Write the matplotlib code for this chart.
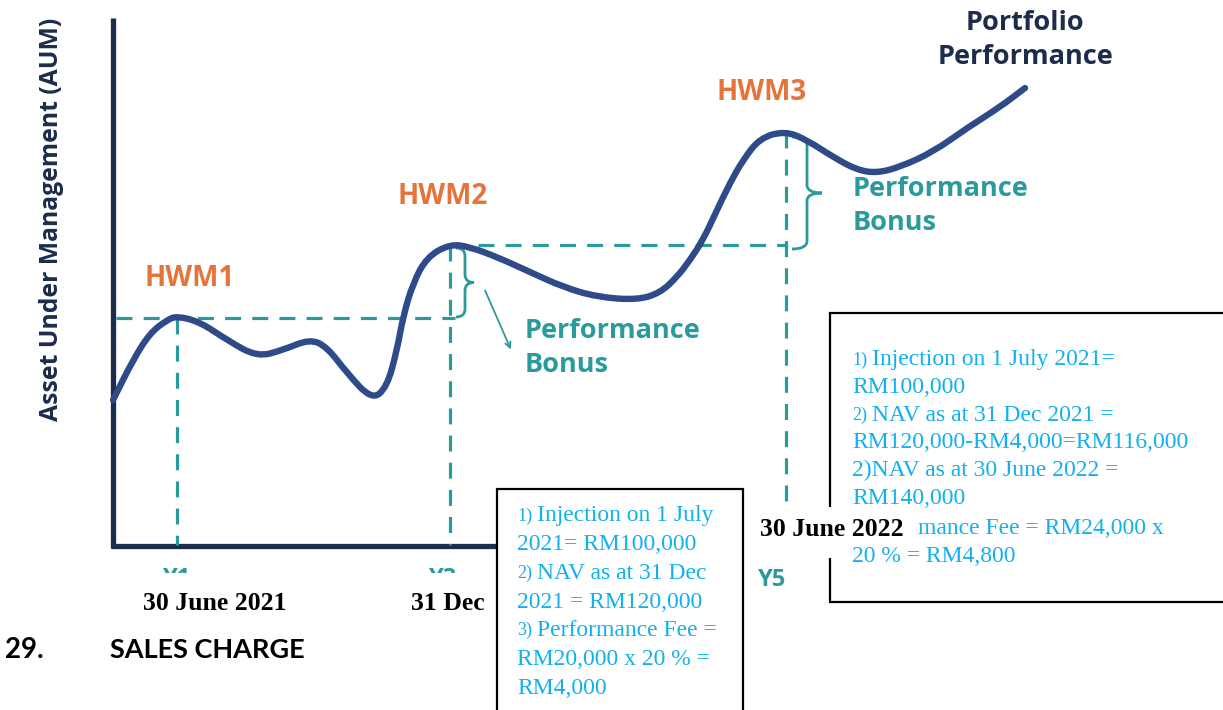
import matplotlib.pyplot as plt
from matplotlib.path import Path
from matplotlib.patches import PathPatch, Rectangle
import numpy as np

# portfolio curve (pixel space, y grows down)
curve_x = [113, 133, 150, 167, 177, 200, 227, 257, 283, 310, 327, 347, 372, 387, 397, 403, 413, 427, 450,
           470, 497, 530, 563, 597, 637, 660, 677, 690, 703, 717, 730, 743, 760, 785,
           807, 833, 857, 877, 900, 933, 967, 1000, 1025]
curve_y = [400, 360, 333, 320, 316, 322, 340, 357, 350, 339, 347, 373, 400, 387, 350, 317, 283, 257, 244,
           247, 257, 272, 287, 297, 300, 293, 277, 260, 240, 210, 183, 160, 138, 131,
           140, 157, 170, 173, 167, 152, 128, 107, 88]

# high water marks
hwm_labels = ['HWM1', 'HWM2', 'HWM3']
hwm_x = [177, 450, 786]
hwm_y = [318, 245, 132]

date_labels = ['30 June 2021', '31 Dec', '30 June 2022']

box1_lines = [('1)', 'Injection on 1 July'), ('', '2021= RM100,000'), ('2)', 'NAV as at 31 Dec'),
              ('', '2021 = RM120,000'), ('3)', 'Performance Fee ='), ('', 'RM20,000 x 20 % ='),
              ('', 'RM4,000')]
box2_lines = [('1)', 'Injection on 1 July 2021='), ('', 'RM100,000'), ('2)', 'NAV as at 31 Dec 2021 ='),
              ('', 'RM120,000-RM4,000=RM116,000'), ('', '2)NAV as at 30 June 2022 ='), ('', 'RM140,000')]
# the start of the next line sits under the "30 June 2022" label, only its tail shows
box2_tail = ['mance Fee = RM24,000 x', '20 % = RM4,800']

navy = '#1c2d4c'
curve_col = '#2f4a89'
teal = '#2b9a9b'
orange = '#e5743a'
blue_txt = '#12b0ee'
sans = 'Open Sans'
serif = 'Liberation Serif'

fig = plt.figure(figsize=(12.23, 7.10), dpi=100)
ax = fig.add_axes([0, 0, 1, 1])
ax.set_xlim(0, 1223)
ax.set_ylim(710, 0)
ax.axis('off')

# axes of the diagram
ax.plot([113, 113], [18, 548], color=navy, lw=3.8, solid_capstyle='butt')
ax.plot([111, 500], [546, 546], color=navy, lw=3.8, solid_capstyle='butt')

# dashed guide lines
dash = (0, (5, 3.5))
ax.plot([116, hwm_x[1] + 5], [hwm_y[0], hwm_y[0]], color=teal, lw=2.3, linestyle=dash)
ax.plot([478, hwm_x[2]], [hwm_y[1], hwm_y[1]], color=teal, lw=2.3, linestyle=dash)
for hx, hy in zip(hwm_x, hwm_y):
    ax.plot([hx, hx], [hy, 545], color=teal, lw=2.3, linestyle=dash)

# smooth the read points with quadratic segments through the midpoints
pts = np.column_stack([curve_x, curve_y]).astype(float)
mids = (pts[:-1] + pts[1:]) / 2
verts = [pts[0], mids[0]]
codes = [Path.MOVETO, Path.LINETO]
for i in range(1, len(pts) - 1):
    verts += [pts[i], mids[i]]
    codes += [Path.CURVE3, Path.CURVE3]
verts.append(pts[-1])
codes.append(Path.LINETO)
ax.add_patch(PathPatch(Path(verts, codes), fill=False, edgecolor=curve_col, lw=4.6,
                       capstyle='round', joinstyle='round', zorder=3))


def brace(x0, y0, y1, w):
    ym = (y0 + y1) / 2
    r = 8
    xm = x0 + w / 2
    v = [(x0, y0), (xm, y0), (xm, y0 + r), (xm, ym - r), (xm, ym), (x0 + w, ym),
         (xm, ym), (xm, ym + r), (xm, y1 - r), (xm, y1), (x0, y1)]
    c = [Path.MOVETO, Path.CURVE3, Path.CURVE3, Path.LINETO, Path.CURVE3, Path.CURVE3,
         Path.CURVE3, Path.CURVE3, Path.LINETO, Path.CURVE3, Path.CURVE3]
    ax.add_patch(PathPatch(Path(v, c), fill=False, edgecolor=teal, lw=2.0))


brace(456, 248, 317, 18)
brace(792, 137, 249, 30)
ax.annotate('', xy=(512, 352), xytext=(484, 288),
            arrowprops=dict(arrowstyle='->', color=teal, lw=1.3))

# labels
ax.text(52, 219, 'Asset Under Management (AUM)', rotation=90, ha='center', va='center',
        fontsize=17.8, fontweight='bold', color=navy, family=sans)
for lab, tx, ty in zip(hwm_labels, [190, 443, 762], [278, 197, 92]):
    ax.text(tx, ty, lab, ha='center', va='center', fontsize=20, fontweight='bold', color=orange, family=sans)
ax.text(1025, 40, 'Portfolio\nPerformance', ha='center', va='center', multialignment='center',
        fontsize=19.5, fontweight='bold', color=navy, family=sans, linespacing=1.45)
for px, py in [(525, 348), (853, 206)]:
    ax.text(px, py, 'Performance\nBonus', ha='left', va='center', fontsize=19.5, fontweight='bold',
            color=teal, family=sans, linespacing=1.45)

# Y1 and Y3 are mostly hidden under the date labels, as in the source
ax.text(772, 580, 'Y5', ha='center', va='center', fontsize=17, fontweight='bold', color=teal, family=sans)
clip = Rectangle((100, 560), 400, 13, transform=ax.transData)
for lab, tx in zip(['Y1', 'Y3'], [177, 443]):
    t = ax.text(tx, 579, lab, ha='center', va='center', fontsize=17, fontweight='bold', color=teal, family=sans)
    t.set_clip_on(True)
    t.set_clip_path(clip)

ax.text(215, 604, date_labels[0], ha='center', va='center', fontsize=18.5, fontweight='bold',
        color='black', family=serif, zorder=5)
ax.text(448, 604, date_labels[1], ha='center', va='center', fontsize=18.5, fontweight='bold',
        color='black', family=serif, zorder=5)

ax.text(5, 650, '29.', ha='left', va='center', fontsize=20, fontweight='bold', color='black', family='Lato', zorder=5)
ax.text(110, 650, 'SALES CHARGE', ha='left', va='center', fontsize=19.5, fontweight='bold', color='black',
        family='Lato', zorder=5)

# text boxes
ax.add_patch(Rectangle((497, 489), 246, 240, facecolor='white', edgecolor='black', lw=1.6, zorder=6))
for i, (num, line) in enumerate(box1_lines):
    y = 516 + i * 28.7
    if num:
        ax.text(517, y, num, ha='left', va='center', fontsize=13, color=blue_txt, family=serif, zorder=7)
        ax.text(537, y, line, ha='left', va='center', fontsize=17, color=blue_txt, family=serif, zorder=7)
    else:
        ax.text(517, y, line, ha='left', va='center', fontsize=17, color=blue_txt, family=serif, zorder=7)

ax.add_patch(Rectangle((830, 313), 420, 289, facecolor='white', edgecolor='black', lw=1.6, zorder=6))
for i, (num, line) in enumerate(box2_lines):
    y = 360 + i * 27.6
    if num:
        ax.text(852, y, num, ha='left', va='center', fontsize=13, color=blue_txt, family=serif, zorder=7)
        ax.text(872, y, line, ha='left', va='center', fontsize=17, color=blue_txt, family=serif, zorder=7)
    else:
        ax.text(852, y, line, ha='left', va='center', fontsize=17, color=blue_txt, family=serif, zorder=7)

ax.add_patch(Rectangle((750, 507), 166, 51, facecolor='white', edgecolor='none', zorder=8))
ax.text(832, 530, date_labels[2], ha='center', va='center', fontsize=18.5, fontweight='bold',
        color='black', family=serif, zorder=9)
ax.text(918, 529, box2_tail[0], ha='left', va='center', fontsize=17, color=blue_txt, family=serif, zorder=9)
ax.text(852, 557, box2_tail[1], ha='left', va='center', fontsize=17, color=blue_txt, family=serif, zorder=9)

fig.savefig('out.png', dpi=100)
